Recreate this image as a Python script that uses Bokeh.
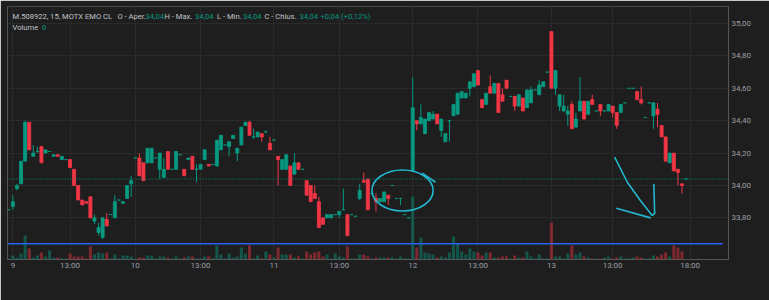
from bokeh.plotting import figure
from bokeh.models import (Range1d, FixedTicker, CustomJSTickFormatter, Label,
                          BoxAnnotation, Span, ColumnDataSource)
from bokeh.embed import file_html
from bokeh.resources import INLINE

# ---------------- data (15-min bars, M.508922 MOTX) ----------------
opens = [33.85, 33.87, 33.98, 34.01, 34.15, 34.39, 34.18, 34.21, 34.24, 34.20,
         34.21, 34.18, 34.19, 34.16, 34.16, 34.16, 34.10, 34.00, 33.91, 33.90,
         33.93, 33.78, 33.71, 33.68, 33.79, 33.82, 33.80, 33.91, 33.89, 33.92,
         34.01, 34.17, 34.17, 34.14, 34.14, 34.14, 34.17, 34.10, 34.05, 34.21,
         34.10, 34.10, 34.19, 34.10, 34.16, 34.18, 34.10, 34.10, 34.16, 34.13,
         34.13, 34.12, 34.22, 34.25, 34.24, 34.29, 34.20, 34.25, 34.37, 34.39,
         34.30, 34.30, 34.32, 34.33, 34.26, 34.28, 34.18, 34.10, 34.10, 34.12,
         34.07, 34.14, 34.10, 34.03, 34.00, 33.95, 33.90, 33.80, 33.80, 33.80,
         33.82, 33.82, 33.85, 33.82, 33.82, 33.81, 33.92, 34.03, 34.04, 33.95,
         33.92, 33.90, 33.90, 33.94, 34.00, 33.92, 33.92, 33.82, 33.80, 34.09,
         34.40, 34.38, 34.32, 34.40, 34.41, 34.44, 34.34, 34.27, 34.40, 34.43,
         34.44, 34.54, 34.54, 34.60, 34.61, 34.71, 34.53, 34.50, 34.61, 34.57,
         34.63, 34.56, 34.65, 34.55, 34.55, 34.49, 34.54, 34.48, 34.51, 34.59,
         34.56, 34.61, 34.70, 34.95, 34.60, 34.49, 34.46, 34.44, 34.50, 34.36,
         34.46, 34.52, 34.44, 34.53, 34.46, 34.50, 34.46, 34.46, 34.49, 34.45,
         34.45, 34.51, 34.60, 34.60, 34.58, 34.53, 34.42, 34.51, 34.43, 34.47,
         34.37, 34.30, 34.14, 34.20, 34.10, 34.01, 34.04]
highs = [33.85, 33.94, 34.01, 34.15, 34.40, 34.39, 34.25, 34.24, 34.24, 34.22,
         34.21, 34.19, 34.19, 34.18, 34.16, 34.16, 34.10, 34.00, 33.91, 33.90,
         33.93, 33.82, 33.77, 33.80, 33.83, 33.82, 33.94, 33.91, 33.90, 34.00,
         34.06, 34.17, 34.20, 34.14, 34.23, 34.23, 34.17, 34.20, 34.17, 34.21,
         34.10, 34.21, 34.19, 34.10, 34.17, 34.18, 34.13, 34.13, 34.22, 34.13,
         34.13, 34.28, 34.31, 34.25, 34.27, 34.31, 34.23, 34.36, 34.39, 34.40,
         34.35, 34.33, 34.32, 34.34, 34.30, 34.28, 34.18, 34.16, 34.19, 34.12,
         34.20, 34.14, 34.10, 34.03, 34.00, 34.00, 33.93, 33.80, 33.82, 33.82,
         33.82, 33.84, 33.98, 33.82, 33.82, 33.81, 34.01, 34.08, 34.04, 33.95,
         33.95, 33.92, 33.96, 33.94, 34.00, 33.92, 33.92, 33.82, 33.80, 34.67,
         34.40, 34.50, 34.41, 34.45, 34.46, 34.44, 34.41, 34.32, 34.40, 34.50,
         34.57, 34.58, 34.57, 34.64, 34.69, 34.71, 34.53, 34.57, 34.68, 34.63,
         34.63, 34.60, 34.65, 34.55, 34.55, 34.56, 34.54, 34.59, 34.61, 34.59,
         34.65, 34.64, 34.70, 34.95, 34.71, 34.56, 34.56, 34.49, 34.52, 34.45,
         34.67, 34.52, 34.52, 34.56, 34.46, 34.50, 34.46, 34.50, 34.49, 34.45,
         34.50, 34.51, 34.60, 34.60, 34.58, 34.61, 34.42, 34.51, 34.51, 34.51,
         34.37, 34.30, 34.20, 34.20, 34.10, 34.01, 34.04]
lows = [33.85, 33.85, 33.97, 34.01, 34.15, 34.22, 34.18, 34.20, 34.14, 34.20,
        34.21, 34.18, 34.18, 34.16, 34.16, 34.11, 34.00, 33.91, 33.88, 33.89,
        33.80, 33.76, 33.69, 33.67, 33.75, 33.82, 33.80, 33.91, 33.89, 33.92,
        33.93, 34.17, 34.06, 34.03, 34.14, 34.14, 34.17, 34.04, 34.05, 34.10,
        34.10, 34.10, 34.19, 34.06, 34.16, 34.10, 34.02, 34.10, 34.16, 34.12,
        34.13, 34.12, 34.22, 34.25, 34.18, 34.29, 34.15, 34.25, 34.37, 34.31,
        34.29, 34.30, 34.27, 34.33, 34.22, 34.28, 34.00, 34.10, 34.10, 34.00,
        34.07, 34.10, 34.10, 33.94, 33.90, 33.92, 33.74, 33.76, 33.80, 33.80,
        33.82, 33.80, 33.85, 33.69, 33.82, 33.81, 33.91, 34.02, 33.85, 33.95,
        33.84, 33.90, 33.90, 33.88, 34.00, 33.92, 33.88, 33.82, 33.80, 34.09,
        34.34, 34.38, 34.32, 34.40, 34.41, 34.38, 34.30, 34.27, 34.27, 34.43,
        34.44, 34.54, 34.54, 34.55, 34.61, 34.62, 34.48, 34.50, 34.57, 34.57,
        34.45, 34.52, 34.60, 34.55, 34.46, 34.49, 34.46, 34.48, 34.51, 34.59,
        34.56, 34.61, 34.70, 34.60, 34.56, 34.46, 34.46, 34.37, 34.35, 34.36,
        34.46, 34.41, 34.44, 34.50, 34.46, 34.43, 34.46, 34.46, 34.42, 34.35,
        34.45, 34.51, 34.60, 34.60, 34.53, 34.50, 34.42, 34.51, 34.35, 34.36,
        34.30, 34.15, 34.14, 34.09, 34.00, 33.95, 34.04]
closes = [33.85, 33.90, 34.00, 34.15, 34.39, 34.22, 34.20, 34.21, 34.14, 34.22,
          34.21, 34.19, 34.18, 34.18, 34.16, 34.11, 34.00, 33.91, 33.88, 33.89,
          33.80, 33.80, 33.74, 33.80, 33.75, 33.82, 33.90, 33.91, 33.90, 34.00,
          34.03, 34.17, 34.06, 34.03, 34.23, 34.23, 34.17, 34.20, 34.10, 34.10,
          34.10, 34.21, 34.19, 34.06, 34.17, 34.10, 34.10, 34.13, 34.22, 34.12,
          34.13, 34.28, 34.31, 34.25, 34.27, 34.31, 34.23, 34.36, 34.39, 34.31,
          34.30, 34.33, 34.30, 34.33, 34.22, 34.28, 34.16, 34.16, 34.19, 34.00,
          34.14, 34.10, 34.10, 33.94, 33.90, 33.92, 33.74, 33.76, 33.82, 33.82,
          33.82, 33.84, 33.85, 33.69, 33.82, 33.81, 33.97, 34.02, 33.85, 33.95,
          33.90, 33.92, 33.96, 33.92, 34.00, 33.92, 33.92, 33.82, 33.80, 34.48,
          34.38, 34.42, 34.41, 34.45, 34.44, 34.38, 34.41, 34.32, 34.40, 34.50,
          34.57, 34.58, 34.57, 34.64, 34.69, 34.62, 34.48, 34.57, 34.57, 34.63,
          34.45, 34.52, 34.60, 34.55, 34.49, 34.56, 34.46, 34.59, 34.59, 34.59,
          34.62, 34.64, 34.70, 34.60, 34.71, 34.56, 34.49, 34.46, 34.35, 34.41,
          34.52, 34.41, 34.52, 34.50, 34.46, 34.46, 34.46, 34.50, 34.45, 34.37,
          34.50, 34.51, 34.60, 34.60, 34.53, 34.51, 34.42, 34.51, 34.51, 34.44,
          34.30, 34.15, 34.20, 34.09, 34.08, 34.00, 34.04]
volumes = [1, 4, 2, 6, 24, 11, 2, 4, 7, 3,
           9, 2, 2, 1, 1, 6, 3, 3, 3, 1,
           13, 5, 7, 6, 7, 1, 5, 1, 4, 4,
           3, 1, 2, 2, 4, 4, 1, 3, 3, 2,
           1, 3, 1, 2, 3, 3, 1, 1, 3, 3,
           1, 14, 5, 1, 6, 2, 3, 12, 6, 14,
           1, 4, 1, 8, 5, 2, 12, 5, 5, 5,
           2, 3, 1, 8, 5, 7, 8, 3, 5, 1,
           6, 3, 2, 13, 1, 1, 5, 5, 3, 1,
           2, 2, 2, 2, 2, 1, 3, 1, 1, 63,
           12, 22, 7, 6, 5, 2, 3, 2, 7, 23,
           16, 8, 5, 11, 8, 7, 4, 7, 7, 2,
           2, 3, 3, 1, 4, 2, 2, 8, 3, 1,
           5, 1, 1, 37, 3, 3, 1, 6, 14, 5,
           7, 3, 2, 1, 1, 1, 2, 3, 1, 2,
           3, 1, 1, 2, 3, 2, 1, 1, 4, 3,
           5, 7, 3, 14, 12, 8, 0]

time_ticks = [1, 15, 31, 47, 65, 81, 99, 115, 133, 148, 167]
time_labels = ["9", "13:00", "10", "13:00", "11", "13:00", "12", "13:00", "13", "13:00", "18:00"]
price_ticks = [33.8, 34.0, 34.2, 34.4, 34.6, 34.8, 35.0]
last_price = 34.04
hline_price = 33.64
hline_x = [-0.3, 175.0]
# hand-drawn annotations (bar index, price)
ellipse_center = (96.5, 33.969)
ellipse_size = (15.0, 0.253)
ellipse_tail_x = [101.3, 104.6]
ellipse_tail_y = [34.076, 34.020]
arrow1_x = [148.5, 151.6, 154.8, 157.7, 158.3, 158.1]
arrow1_y = [34.175, 34.020, 33.907, 33.815, 33.827, 34.010]
arrow2_x = [148.9, 157.3]
arrow2_y = [33.860, 33.800]

# ---------------- styling ----------------
GREEN = "#089981"
RED = "#f23645"
PANEL = "#1e1e1e"
OUTER = "#2a2a2a"
GRID = "#2a2a2a"
AXIS_TXT = "#9b9ea6"
HEAD_TXT = "#c0c3ca"
CYAN = "#22b8cf"
FONT = "Roboto"

n = len(opens)
xs = list(range(n))
cols = [GREEN if c >= o else RED for o, c in zip(opens, closes)]
src = ColumnDataSource(dict(
    x=xs, top=[max(o, c) for o, c in zip(opens, closes)],
    bottom=[min(o, c) for o, c in zip(opens, closes)],
    high=highs, low=lows, color=cols, vol=volumes))

p = figure(width=769, height=300, output_backend="svg", toolbar_location=None,
           x_range=Range1d(-0.32, 176.40), y_range=Range1d(33.543, 35.105),
           y_axis_location="right",
           min_border_left=7, min_border_right=41, min_border_top=6, min_border_bottom=41)
p.extra_y_ranges = {"vol": Range1d(0, 253)}
p.background_fill_color = PANEL
p.border_fill_color = PANEL
p.outline_line_color = None

# axes
p.xaxis.ticker = FixedTicker(ticks=time_ticks)
p.xaxis.major_label_overrides = {t: l for t, l in zip(time_ticks, time_labels)}
p.yaxis.ticker = FixedTicker(ticks=price_ticks)
p.yaxis.formatter = CustomJSTickFormatter(code="return tick.toFixed(2).replace('.', ',');")
for ax in (p.xaxis[0], p.yaxis[0]):
    ax.axis_line_color = None
    ax.major_tick_line_color = None
    ax.minor_tick_line_color = None
    ax.major_tick_out = 0
    ax.major_tick_in = 0
    ax.major_label_text_color = AXIS_TXT
    ax.major_label_text_font = FONT
    ax.major_label_text_font_size = "8px"
p.xaxis.major_label_standoff = 1
p.yaxis.major_label_standoff = 3
p.xgrid.grid_line_color = GRID
p.ygrid.grid_line_color = GRID

# volume
p.vbar(x="x", top="vol", bottom=0, width=0.75, source=src, fill_color="color",
       fill_alpha=0.45, line_color=None, y_range_name="vol")

# horizontal drawn line
p.line(x=hline_x, y=[hline_price, hline_price], line_color="#2962ff", line_width=1.6)

# last price dotted line
p.add_layout(Span(location=last_price, dimension="width", line_color=GREEN,
                  line_dash="1 2", line_width=1, line_alpha=0.9))

# candles
p.segment(x0="x", y0="low", x1="x", y1="high", source=src, line_color="color", line_width=1)
p.vbar(x="x", top="top", bottom="bottom", width=0.75, source=src,
       fill_color="color", line_color="color", line_width=0.8)

# drawings
p.ellipse(x=[ellipse_center[0]], y=[ellipse_center[1]], width=[ellipse_size[0]],
          height=[ellipse_size[1]], fill_color=None, line_color=CYAN, line_width=1.6)
p.line(ellipse_tail_x, ellipse_tail_y, line_color=CYAN, line_width=1.6)
p.line(arrow1_x, arrow1_y, line_color=CYAN, line_width=1.6)
p.line(arrow2_x, arrow2_y, line_color=CYAN, line_width=1.6)

# outer (page) strips and panel border
for l, r, t, b in [(0, 769, 0, 6), (0, 6.5, 0, 300), (762, 769, 0, 300), (0, 769, 277, 300)]:
    p.add_layout(BoxAnnotation(left=l, right=r, top=t, bottom=b, left_units="canvas",
                               right_units="canvas", top_units="canvas", bottom_units="canvas",
                               fill_color=OUTER, fill_alpha=1, line_color=None))
p.add_layout(BoxAnnotation(left=6.5, right=762, top=6, bottom=277, left_units="canvas",
                           right_units="canvas", top_units="canvas", bottom_units="canvas",
                           fill_color=None, fill_alpha=0, line_color="#363636", line_width=1))

# price labels on the scale
p.add_layout(BoxAnnotation(left=729, right=756, top=last_price + 0.032, bottom=last_price - 0.032,
                           left_units="canvas", right_units="canvas",
                           fill_color=GREEN, fill_alpha=1, line_color=None))
p.add_layout(Label(x=742.5, y=last_price, x_units="canvas", text="34,04", text_color="white",
                   text_font=FONT, text_font_size="8px", text_align="center",
                   text_baseline="middle"))
for t, b, txt, ty in [(227.7, 238.6, "33,64", 233.2), (238.4, 249.3, "33,63", 244.0)]:
    p.add_layout(BoxAnnotation(left=729, right=756, top=t, bottom=b, left_units="canvas",
                               right_units="canvas", top_units="canvas", bottom_units="canvas",
                               fill_color="#2962ff", fill_alpha=1, line_color=None))
    p.add_layout(Label(x=742.5, y=ty, x_units="canvas", y_units="canvas", text=txt,
                       text_color="white", text_font=FONT, text_font_size="8px",
                       text_align="center", text_baseline="middle"))

# header legend
header = [("M.508922, 15, MOTX EMO CL", 12, HEAD_TXT),
          ("O - Aper.", 117, HEAD_TXT), ("34,04", 145, GREEN),
          ("H - Max.", 164, HEAD_TXT), ("34,04", 194.5, GREEN),
          ("L - Min.", 216.5, HEAD_TXT), ("34,04", 242.5, GREEN),
          ("C - Chius.", 264, HEAD_TXT), ("34,04", 299, GREEN),
          ("+0,04 (+0,12%)", 320, GREEN)]
for txt, hx, hc in header:
    p.add_layout(Label(x=hx, y=15.7, x_units="canvas", y_units="canvas", text=txt,
                       text_color=hc, text_font=FONT, text_font_size="7.6px",
                       text_baseline="middle"))
p.add_layout(Label(x=12, y=26.7, x_units="canvas", y_units="canvas", text="Volume",
                   text_color=HEAD_TXT, text_font=FONT, text_font_size="7.6px",
                   text_baseline="middle"))
p.add_layout(Label(x=41.5, y=26.7, x_units="canvas", y_units="canvas", text="0",
                   text_color=GREEN, text_font=FONT, text_font_size="7.6px",
                   text_baseline="middle"))

# footer logo
p.add_layout(Label(x=6, y=289.5, x_units="canvas", y_units="canvas", text="17",
                   text_color="#d1d4dc", text_font=FONT, text_font_size="9px",
                   text_font_style="bold", text_baseline="middle"))
p.add_layout(Label(x=22, y=289.5, x_units="canvas", y_units="canvas", text="TradingView",
                   text_color="#d1d4dc", text_font=FONT, text_font_size="8.5px",
                   text_baseline="middle"))

open("out.html", "w").write(file_html(p, INLINE))
